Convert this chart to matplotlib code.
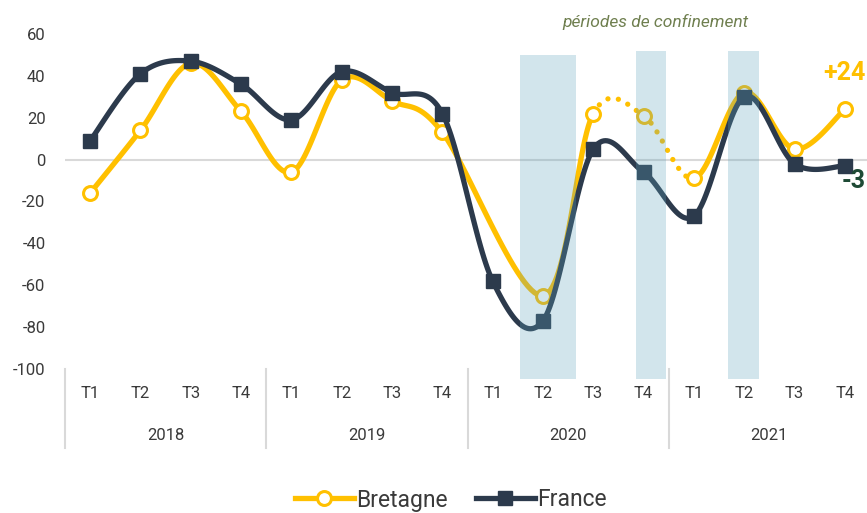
import numpy as np
import matplotlib
matplotlib.use("Agg")
import matplotlib.pyplot as plt
from matplotlib.lines import Line2D

plt.rcParams['font.family'] = ['Roboto', 'DejaVu Sans']
plt.rcParams['axes.unicode_minus'] = False

# données
annees = ['2018', '2019', '2020', '2021']
trimestres = ['T1', 'T2', 'T3', 'T4']
bretagne = [-16, 14, 46, 23, -6, 38, 28, 13, np.nan, -65, 22, 21, -9, 32, 5, 24]
france = [9, 41, 47, 36, 19, 42, 32, 22, -58, -77, 5, -6, -27, 30, -2, -3]
# périodes de confinement (début, fin, haut) en position de trimestre
confinements = [(8.55, 9.65, 50), (10.85, 11.45, 52), (12.67, 13.3, 52)]

JAUNE = '#FFC000'
BLEU = '#2C3A4C'
GRIS = '#D9D9D9'
TEXTE = '#3A3A3A'


def lissage(x, y, n=30):
    # courbe lissée façon Excel (Bezier cubique, tension 1/6)
    x = np.asarray(x, float)
    y = np.asarray(y, float)
    segs = []
    for i in range(len(x) - 1):
        p0 = np.array([x[max(i - 1, 0)], y[max(i - 1, 0)]])
        p1 = np.array([x[i], y[i]])
        p2 = np.array([x[i + 1], y[i + 1]])
        p3 = np.array([x[min(i + 2, len(x) - 1)], y[min(i + 2, len(x) - 1)]])
        c1 = p1 + (p2 - p0) / 6
        c2 = p2 - (p3 - p1) / 6
        t = np.linspace(0, 1, n)[:, None]
        pts = (1 - t) ** 3 * p1 + 3 * (1 - t) ** 2 * t * c1 + 3 * (1 - t) * t ** 2 * c2 + t ** 3 * p2
        segs.append(pts)
    return segs


fig = plt.figure(figsize=(8.67, 5.13), dpi=100)
W, H = 867, 513
y_haut, y_bas = 62, -106
px_haut = 159.6 - y_haut * 2.094
px_bas = 159.6 - y_bas * 2.094
ax = fig.add_axes([65 / W, 1 - px_bas / H, 805 / W, (px_bas - px_haut) / H])
ax.set_xlim(-0.5, 15.5)
ax.set_ylim(y_bas, y_haut)
for s in ax.spines.values():
    s.set_visible(False)
ax.set_xticks([])
ax.set_yticks(range(-100, 61, 20))
ax.tick_params(axis='y', length=0, pad=14, labelsize=12, labelcolor=TEXTE)

ax.axhline(0, color=GRIS, lw=1.5, zorder=1)

xs = np.arange(len(france))

# France
for seg in lissage(xs, france):
    ax.plot(seg[:, 0], seg[:, 1], color=BLEU, lw=3.8, solid_capstyle='round', zorder=4)
ax.plot(xs, france, ls='none', marker='s', ms=10.5, color=BLEU, zorder=5)

# Bretagne (valeur T1 2020 absente)
ok = ~np.isnan(bretagne)
xb = xs[ok]
yb = np.array(bretagne)[ok]
for seg, x0 in zip(lissage(xb, yb), xb[:-1]):
    if x0 in (10, 11):
        ax.plot(seg[:, 0], seg[:, 1], color=JAUNE, lw=3.8, ls=(0, (0.01, 2.0)),
                dash_capstyle='round', zorder=2)
    else:
        ax.plot(seg[:, 0], seg[:, 1], color=JAUNE, lw=3.8, solid_capstyle='round', zorder=2)
ax.plot(xb, yb, ls='none', marker='o', ms=10, mfc='white', mec=JAUNE, mew=2.2, zorder=3)

# zones de confinement
for x0, x1, top in confinements:
    ax.fill_between([x0, x1], y_bas + 1, top, color='#5EA3BC', alpha=0.28, lw=0,
                    zorder=6, clip_on=False)


def fy(px):
    return 1 - px / H


fig.text(655 / W, fy(22), 'périodes de confinement', ha='center', va='center',
         style='italic', fontsize=12.5, color='#6F7F4F')
fig.text(866 / W, fy(73), '+24', ha='right', va='center', fontsize=18, fontweight='bold', color=JAUNE)
fig.text(866 / W, fy(181), '-3', ha='right', va='center', fontsize=18, fontweight='bold', color='#1E4A35')

# axe des catégories à deux niveaux
for i in range(16):
    fig.text((65 + (i + 0.5) * 805 / 16) / W, fy(393), trimestres[i % 4], ha='center', va='center',
             fontsize=12, color=TEXTE)
for j, a in enumerate(annees):
    fig.text((65 + (4 * j + 2) * 805 / 16) / W, fy(436), a, ha='center', va='center',
             fontsize=12, color=TEXTE)
for j in range(5):
    xp = (65 + 4 * j * 805 / 16) / W
    fig.add_artist(Line2D([xp, xp], [fy(369), fy(448)], color=GRIS, lw=1.5))

# légende
poignees = [Line2D([], [], color=JAUNE, lw=3.8, marker='o', ms=10, mfc='white', mec=JAUNE, mew=2.2),
            Line2D([], [], color=BLEU, lw=3.8, marker='s', ms=10.5)]
fig.legend(poignees, ['Bretagne', 'France'], loc='center', bbox_to_anchor=(0.52, fy(500)),
           ncol=2, frameon=False, fontsize=16.5, handlelength=2.6, handletextpad=0.1,
           columnspacing=1.2, labelcolor=TEXTE)

fig.savefig('out.png', dpi=100)
